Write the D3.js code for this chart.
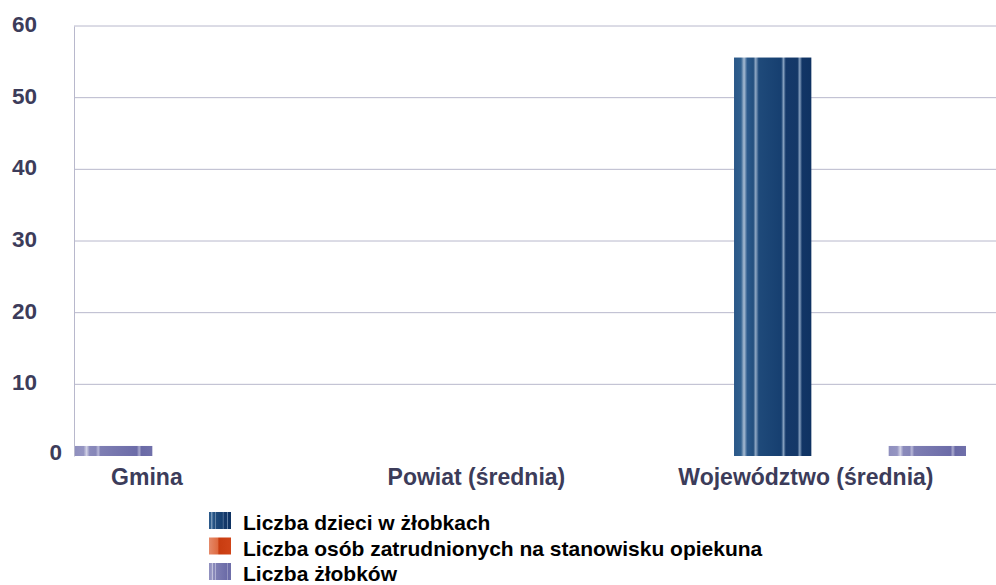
<!DOCTYPE html>
<meta charset="utf-8">
<style>
    body { margin: 0; background: #fff; }
    text { font-family: "Liberation Sans", Arial, sans-serif; font-weight: bold; }
    .tick text { font-size: 22.5px; fill: #3c3c5a; }
    .cat { font-size: 23px; fill: #3c3c5a; text-anchor: middle; }
    .legend text { font-size: 21px; fill: #000; }
</style>
<svg width="996" height="585"></svg>
<script src="https://d3js.org/d3.v7.min.js"></script>
<script>

    var categories = ["Gmina", "Powiat (średnia)", "Województwo (średnia)"];
    var seriesNames = ["Liczba dzieci w żłobkach",
        "Liczba osób zatrudnionych na stanowisku opiekuna",
        "Liczba żłobków"];
    // null = brak danych
    var dzieci = [null, null, 55.6];
    var opiekunowie = [null, null, 0];
    var zlobki = [1.4, null, 1.4];
    var yTicks = [0, 10, 20, 30, 40, 50, 60];

    var seriesValues = [dzieci, opiekunowie, zlobki];
    var fills = ["url(#gBlue)", "url(#gOrange)", "url(#gPurple)"];

    var svg = d3.select("svg"),
        plotLeft = 74, plotRight = 996, plotTop = 26, plotBottom = 456;

    // gradients imitating the striped bar fills
    var defs = svg.append("defs");
    function grad(id, stops) {
        var g = defs.append("linearGradient").attr("id", id)
            .attr("x1", "0").attr("x2", "1").attr("y1", "0").attr("y2", "0");
        stops.forEach(function (s) {
            g.append("stop").attr("offset", s[0]).attr("stop-color", s[1]);
        });
    }
    grad("gBlue", [[0, "#2a5788"], [0.09, "#30608f"], [0.13, "#a8bdd4"], [0.17, "#2c5a8c"],
        [0.25, "#24507f"], [0.28, "#90a8c4"], [0.32, "#1f4a7a"], [0.61, "#163f70"],
        [0.64, "#849fbe"], [0.67, "#15396a"], [0.82, "#143868"], [0.85, "#859fbe"],
        [0.88, "#113566"], [1, "#0f3262"]]);
    grad("gPurple", [[0, "#8f8fbe"], [0.11, "#9595c2"], [0.15, "#d2d2e6"], [0.19, "#8a8abb"],
        [0.27, "#8686b8"], [0.3, "#b8b8d8"], [0.33, "#7e7eb3"], [0.8, "#6c6ca8"],
        [0.83, "#aaaace"], [0.86, "#6a6aa6"], [1, "#7070aa"]]);
    grad("gOrange", [[0, "#e58a6a"], [0.4, "#de6a40"], [0.45, "#c83c10"], [1, "#d04418"]]);

    var x = d3.scaleBand()
        .domain(categories)
        .range([75, 966])
        .paddingInner(0.296)
        .paddingOuter(0);

    var y = d3.scaleLinear()
        .domain([0, 60])
        .range([plotBottom, plotTop]);

    // gridlines
    svg.append("g").selectAll("line")
        .data(yTicks.filter(function (t) { return t > 0; }))
        .enter().append("line")
        .attr("x1", plotLeft).attr("x2", plotRight)
        .attr("y1", function (d) { return y(d); })
        .attr("y2", function (d) { return y(d); })
        .attr("stroke", "#b8b8cc");

    // y axis
    var yAxis = svg.append("g")
        .attr("transform", "translate(" + plotLeft + ",0)")
        .call(d3.axisLeft(y).tickValues(yTicks).tickSize(0).tickPadding(37));
    yAxis.select(".domain").attr("stroke", "#b8b8cc");
    yAxis.selectAll(".tick text")
        .attr("dy", function (d) { return d === 0 ? "3px" : "5.5px"; })
        .attr("x", function (d) { return d === 0 ? -12 : -37; });

    // bars: the series that have data fill the slots from the left
    var slot = x.bandwidth() / 3;
    var bars = [];
    categories.forEach(function (c, i) {
        var k = 0;
        seriesValues.forEach(function (vals, s) {
            if (vals[i] === null) return;
            bars.push({cat: c, series: s, value: vals[i], slot: k});
            k++;
        });
    });

    svg.append("g").selectAll("rect")
        .data(bars)
        .enter().append("rect")
        .attr("x", function (d) { return x(d.cat) + d.slot * slot; })
        .attr("width", slot)
        .attr("y", function (d) { return y(d.value); })
        .attr("height", function (d) { return y(0) - y(d.value); })
        .attr("fill", function (d) { return fills[d.series]; });

    // category labels
    svg.append("g").selectAll("text")
        .data(categories)
        .enter().append("text")
        .attr("class", "cat")
        .attr("x", function (d) { return x(d) + x.bandwidth() * 0.31; })
        .attr("y", 485)
        .text(function (d) { return d; });

    // legend
    var legend = svg.append("g").attr("class", "legend")
        .attr("transform", "translate(209,512)");
    var item = legend.selectAll("g")
        .data(seriesNames)
        .enter().append("g")
        .attr("transform", function (d, i) { return "translate(0," + (i * 25.5) + ")"; });
    item.append("rect")
        .attr("width", 22).attr("height", 17)
        .attr("fill", function (d, i) { return fills[i]; });
    item.append("text")
        .attr("x", 34).attr("y", 18)
        .text(function (d) { return d; });
</script>
